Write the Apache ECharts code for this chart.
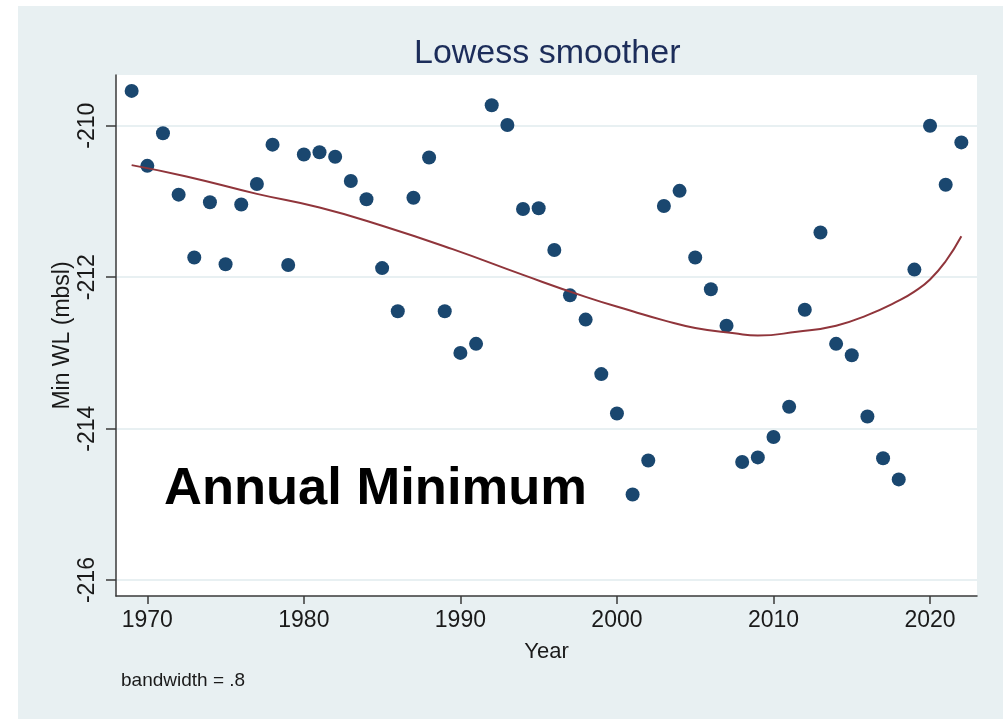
<!DOCTYPE html>
<html>
<head>
<meta charset="utf-8">
<script src="https://cdn.jsdelivr.net/npm/echarts@6/dist/echarts.min.js"></script>
<style>
html,body{margin:0;padding:0;background:#fff;}
#chart{width:1003px;height:719px;}
</style>
</head>
<body>
<div id="chart"></div>
<script>
const years = [1969,1970,1971,1972,1973,1974,1975,1976,1977,1978,1979,1980,1981,1982,1983,1984,1985,1986,1987,1988,1989,1990,1991,1992,1993,1994,1995,1996,1997,1998,1999,2000,2001,2002,2003,2004,2005,2006,2007,2008,2009,2010,2011,2012,2013,2014,2015,2016,2017,2018,2019,2020,2021,2022];
const minWL = [-209.54,-210.53,-210.10,-210.91,-211.74,-211.01,-211.83,-211.04,-210.77,-210.25,-211.84,-210.38,-210.35,-210.41,-210.73,-210.97,-211.88,-212.45,-210.95,-210.42,-212.45,-213.00,-212.88,-209.73,-209.99,-211.10,-211.09,-211.64,-212.24,-212.56,-213.28,-213.80,-214.87,-214.42,-211.06,-210.86,-211.74,-212.16,-212.64,-214.44,-214.38,-214.11,-213.71,-212.43,-211.41,-212.88,-213.03,-213.84,-214.39,-214.67,-211.90,-210.00,-210.78,-210.22];
const lowessYears = [1969,1972.5,1977,1981,1985,1989.5,1994,1998,2001,2003,2005,2007.5,2009,2011.5,2014,2016,2018,2019,2020,2021,2022];
const lowessVals = [-210.52,-210.67,-210.90,-211.08,-211.32,-211.63,-211.97,-212.26,-212.45,-212.57,-212.67,-212.74,-212.77,-212.72,-212.64,-212.50,-212.31,-212.19,-212.03,-211.79,-211.46];
const xTicks = [1970,1980,1990,2000,2010,2020];
const yTicks = [-216,-214,-212,-210];

const FONT = 'Liberation Sans, Arial, Helvetica, sans-serif';
const chart = echarts.init(document.getElementById('chart'), null, {renderer:'canvas'});
chart.setOption({
  backgroundColor: '#ffffff',
  animation: false,
  textStyle: {fontFamily: FONT},
  graphic: [
    {type:'rect', z:-10, silent:true, shape:{x:18, y:6, width:1003-18, height:719-6}, style:{fill:'#e8f0f2'}},
    {type:'text', z:100, left:164, top:463, style:{text:'Annual Minimum', font:'bold 52.5px ' + FONT, fill:'#000'}},
    {type:'text', z:100, left:121, top:671, style:{text:'bandwidth = .8', font:'19px ' + FONT, fill:'#1a1a1a'}}
  ],
  title: {
    text: 'Lowess smoother', left: 409, top: 32,
    textStyle: {fontFamily: FONT, fontSize: 34, fontWeight: 'normal', color: '#1c2d5a'}
  },
  grid: {left:116, top:75, right:26, bottom:123, show:true, backgroundColor:'#ffffff', borderWidth:0},
  xAxis: {
    type:'value', min:1968, max:2023,
    name:'Year', nameLocation:'middle', nameGap:45, nameMoveOverlap:false,
    nameTextStyle:{fontSize:22, color:'#1a1a1a', fontFamily:FONT},
    axisLine:{show:true, onZero:false, lineStyle:{color:'#3a3a3a', width:1.5}},
    axisTick:{show:true, length:8, customValues:xTicks, lineStyle:{color:'#3a3a3a', width:1.5}},
    axisLabel:{customValues:xTicks, formatter:(v)=>String(v), fontSize:23, color:'#1a1a1a', margin:13, fontFamily:FONT},
    splitLine:{show:false}
  },
  yAxis: {
    type:'value', min:-216.21, max:-209.33,
    name:'Min WL (mbsl)', nameLocation:'middle', nameGap:42, nameRotate:90, nameMoveOverlap:false,
    nameTextStyle:{fontSize:23, color:'#1a1a1a', fontFamily:FONT},
    axisLine:{show:true, onZero:false, lineStyle:{color:'#3a3a3a', width:1.5}},
    axisTick:{show:true, length:10, customValues:yTicks, lineStyle:{color:'#3a3a3a', width:1.5}},
    axisLabel:{customValues:yTicks, formatter:(v)=>String(v), rotate:90, fontSize:23, color:'#1a1a1a', margin:17, fontFamily:FONT},
    splitLine:{show:true, lineStyle:{color:'#e8f0f2', width:2}}
  },
  series: [
    {
      type:'scatter', name:'Min WL',
      data: years.map((y,i)=>[y, minWL[i]]),
      symbolSize:14,
      itemStyle:{color:'#1a476f', opacity:1},
      z:3
    },
    {
      type:'line', name:'Lowess',
      data: lowessYears.map((y,i)=>[y, lowessVals[i]]),
      smooth:0.5, showSymbol:false, symbol:'none',
      lineStyle:{color:'#90353b', width:2},
      z:4
    }
  ]
});
</script>
</body>
</html>
